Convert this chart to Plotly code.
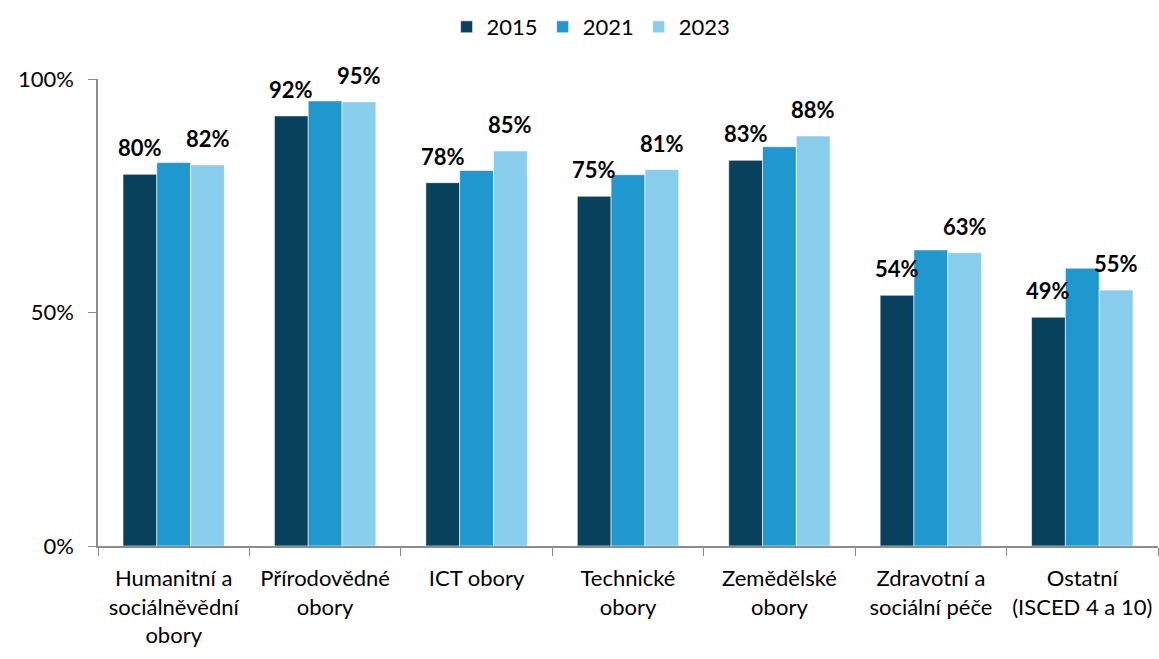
import plotly.graph_objects as go

categories = [
    "Humanitní a<br>sociálněvědní<br>obory",
    "Přírodovědné<br>obory",
    "ICT obory",
    "Technické<br>obory",
    "Zemědělské<br>obory",
    "Zdravotní a<br>sociální péče",
    "Ostatní<br>(ISCED 4 a 10)",
]
years = ["2015", "2021", "2023"]
v2015 = [0.796, 0.921, 0.778, 0.749, 0.826, 0.537, 0.490]
v2021 = [0.821, 0.953, 0.804, 0.795, 0.855, 0.634, 0.595]
v2023 = [0.816, 0.951, 0.846, 0.806, 0.878, 0.628, 0.548]
labelled = {"2015": True, "2021": False, "2023": True}
colors = ["#08415C", "#1F97CF", "#89CDED"]

FONT = "Lato, 'Open Sans', sans-serif"
W, H = 1159, 659
ML, MR, MT, MB = 98, 1, 79, 113
BARGAP = 0.33

fig = go.Figure()
series = [v2015, v2021, v2023]
for yr, vals, col in zip(years, series, colors):
    fig.add_trace(go.Bar(
        name=yr, x=categories, y=vals,
        marker=dict(color=col, line=dict(color="white", width=0.6)),
        hoverinfo="x+y",
    ))

# value labels above the 2015 and 2023 bars
cat_px = (W - ML - MR) / len(categories)
bar_px = cat_px * (1 - BARGAP) / len(years)
annotations = []
for i, (yr, vals) in enumerate(zip(years, series)):
    if not labelled[yr]:
        continue
    offset = (i - (len(years) - 1) / 2) * bar_px
    for c, v in zip(categories, vals):
        annotations.append(dict(
            x=c, y=v, xref="x", yref="y", text=f"{v*100:.0f}%",
            showarrow=False, xanchor="center", yanchor="bottom",
            xshift=offset, yshift=11,
            font=dict(family=FONT, size=22, color="black", weight="bold"),
        ))

fig.update_layout(
    width=W, height=H,
    paper_bgcolor="white", plot_bgcolor="white",
    barmode="group", bargap=BARGAP, bargroupgap=0,
    margin=dict(l=ML, r=MR, t=MT, b=MB, autoexpand=False),
    font=dict(family=FONT, size=22, color="black"),
    legend=dict(orientation="h", xref="container", yref="container",
                x=0.51, xanchor="center", y=0.959, yanchor="middle",
                font=dict(size=22), traceorder="normal", itemwidth=30),
    showlegend=True,
    annotations=annotations,
)
fig.update_yaxes(range=[0, 1], tickvals=[0, 0.5, 1], tickformat=".0%",
                 showgrid=False, zeroline=False, showline=True,
                 linecolor="#8c8c8c", linewidth=1.5, ticks="outside",
                 ticklen=8, tickcolor="#8c8c8c", tickfont=dict(size=22),
                 ticklabelstandoff=10, automargin=False)
fig.update_xaxes(showgrid=False, showline=True, linecolor="#8c8c8c",
                 linewidth=1.5, ticks="outside", tickson="boundaries",
                 ticklen=8, tickcolor="#8c8c8c", tickfont=dict(size=22),
                 ticklabelstandoff=12, automargin=False)

fig.write_html(
    "out.html",
    config={"displayModeBar": False},
    post_script="document.body.style.margin='0';document.body.style.overflow='hidden';",
)
